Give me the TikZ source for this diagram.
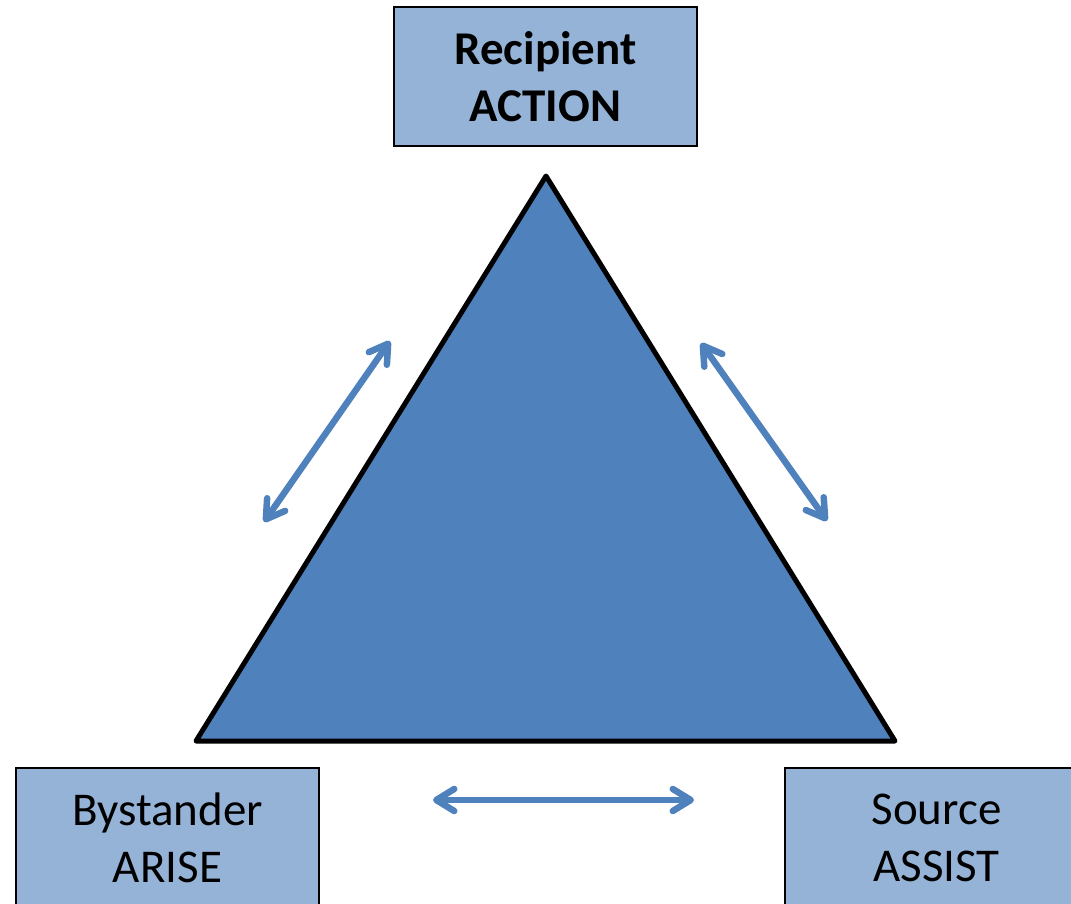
\documentclass[tikz,border=0pt]{standalone}
\usepackage{fontspec}
\setmainfont{Carlito}
\usetikzlibrary{arrows.meta}
\definecolor{boxblue}{HTML}{95B3D7}
\definecolor{triblue}{HTML}{4F81BD}
\tikzset{
  rolebox/.style={rectangle,draw=black,line width=1.5pt,fill=boxblue,minimum width=303pt,minimum height=139pt,align=center,font=\fontsize{47}{57}\selectfont},
  twoway/.style={draw=triblue,line width=6.5pt,line cap=round,{Straight Barb[length=18pt,width=22pt,line cap=round,line join=round]}-{Straight Barb[length=18pt,width=22pt,line cap=round,line join=round]}}
}
\begin{document}
\begin{tikzpicture}[x=1pt,y=-1pt]
\useasboundingbox (0,0) rectangle (1071,904);
\node[rolebox,font=\fontsize{47}{57}\selectfont\bfseries] (recipient) at (545.5,76.5) {Recipient\\ACTION};
\node[rolebox] (bystander) at (167.5,837.5) {Bystander\\ARISE};
\node[rolebox] (source) at (936.5,837.5) {Source\\ASSIST};

\draw[fill=triblue,line width=5pt,line join=round] (546,176) -- (895,741) -- (196,741) -- cycle;

\coordinate (l1) at (264,522);
\coordinate (l2) at (390,341);
\coordinate (r1) at (701,343);
\coordinate (r2) at (827,521);
\coordinate (b1) at (433,800);
\coordinate (b2) at (694,800);
\draw[twoway] (l1) -- (l2);
\draw[twoway] (r1) -- (r2);
\draw[twoway] (b1) -- (b2);
\end{tikzpicture}
\end{document}
